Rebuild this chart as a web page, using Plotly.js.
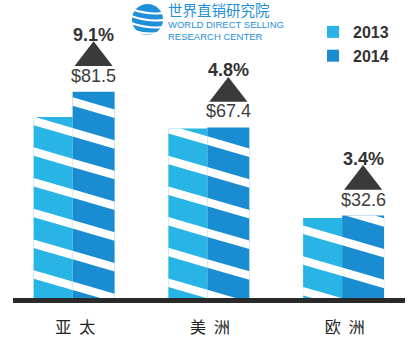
<!DOCTYPE html>
<html><head><meta charset="utf-8">
<script src="https://cdn.plot.ly/plotly-3.0.1.min.js"></script>
<style>html,body{margin:0;padding:0;background:#fff;} #chart{width:411px;height:342px;}</style>
</head><body><div id="chart"></div>
<script>
// ---- data ----
const regions = ['亚太', '美洲', '欧洲'];
const tickLabels = ['亚\u2002太', '美\u2002洲', '欧\u2002洲'];
const seriesNames = ['2013', '2014'];
const sales2013 = [71.5, 67.0, 31.6];
const sales2014 = [81.5, 67.4, 32.6];
const growthLabels = ['9.1%', '4.8%', '3.4%'];
const valueLabels = sales2014.map(v => '$' + v.toFixed(1));

// ---- geometry / style ----
const W = 411, H = 342, M = {l: 13, r: 6, t: 20, b: 44};
const plotW = W - M.l - M.r, plotH = H - M.t - M.b;
const unitPx = 134.75;
const xr = [-0.4423, -0.4423 + plotW / unitPx];
const ppu = 2.53;
const yr = [0, plotH / ppu];
const w13 = 39 / unitPx, w14 = 42 / unitPx;
const c13 = '#28b5e5', c14 = '#1a8dd2';
const idx = regions.map((_, i) => i);

function px2x(px) { return xr[0] + (px - M.l) / plotW * (xr[1] - xr[0]); }
function x2px(x) { return M.l + (x - xr[0]) / (xr[1] - xr[0]) * plotW; }
function py2y(py) { return (M.t + plotH - py) / ppu; }
function y2py(y) { return M.t + plotH - y * ppu; }
function pxP(px) { return (px - M.l) / plotW; }
function pyP(py) { return (M.t + plotH - py) / plotH; }

// ---- diagonal white stripes clipped to each bar ----
const S = 0.29, P = 30.7, T = 8.5, PH = 199.0;
function clipY(poly, yLim, keepBelow) {
  const out = [];
  const inside = p => keepBelow ? p[1] >= yLim : p[1] <= yLim;
  for (let i = 0; i < poly.length; i++) {
    const a = poly[i], b = poly[(i + 1) % poly.length];
    const ia = inside(a), ib = inside(b);
    if (ia) out.push(a);
    if (ia !== ib) {
      const t = (yLim - a[1]) / (b[1] - a[1]);
      out.push([a[0] + t * (b[0] - a[0]), yLim]);
    }
  }
  return out;
}
const shapes = [];
function stripesFor(xs, vals, offset, width) {
  xs.forEach((xc, i) => {
    const x0 = x2px(xc + offset), x1 = x2px(xc + offset + width);
    const yt = y2py(vals[i]), yb = y2py(0);
    const kMin = Math.floor((yt - S * x1 - T - PH) / P);
    const kMax = Math.ceil((yb - S * x0 - PH) / P);
    for (let k = kMin; k <= kMax; k++) {
      const c = PH + k * P;
      let poly = [[x0, c + S * x0], [x1, c + S * x1], [x1, c + T + S * x1], [x0, c + T + S * x0]];
      poly = clipY(poly, yt, true);
      if (poly.length < 3) continue;
      poly = clipY(poly, yb, false);
      if (poly.length < 3) continue;
      const path = poly.map((p, j) => (j ? 'L' : 'M') + px2x(p[0]).toFixed(5) + ',' + py2y(p[1]).toFixed(4)).join(' ') + ' Z';
      shapes.push({type: 'path', xref: 'x', yref: 'y', path: path, fillcolor: '#ffffff', line: {width: 0}, layer: 'above'});
    }
  });
}
stripesFor(idx, sales2013, -w13, w13);
stripesFor(idx, sales2014, 0, w14);

// ---- logo (decorative) ----
shapes.push({type: 'circle', xref: 'paper', yref: 'paper', x0: pxP(132), x1: pxP(163), y0: pyP(35), y1: pyP(4), fillcolor: '#1f8fd8', line: {width: 0}, layer: 'above'});
[[9, 13], [16, 20], [23, 27], [30, 32]].forEach(([a, b]) => {
  shapes.push({type: 'path', xref: 'paper', yref: 'paper',
    path: `M${pxP(131)},${pyP(a)} Q${pxP(148)},${pyP(a + 6)} ${pxP(164)},${pyP(b)}`,
    line: {color: '#ffffff', width: 2}, layer: 'above'});
});

// ---- traces ----
const traces = [
  {type: 'bar', name: seriesNames[0], x: idx, y: sales2013, width: w13, offset: -w13,
   marker: {color: c13, line: {width: 0}}, hoverinfo: 'skip', legendgroup: 'a'},
  {type: 'bar', name: seriesNames[1], x: idx, y: sales2014, width: w14, offset: 0,
   marker: {color: c14, line: {width: 0}}, hoverinfo: 'skip', legendgroup: 'b'},
  {type: 'scatter', mode: 'markers', x: idx.map(i => i + w14 / 2), y: sales2014.map(v => v + 34 / ppu),
   marker: {symbol: 'triangle-up', size: 33, color: '#3a3a3a', line: {width: 0}},
   showlegend: false, hoverinfo: 'skip'}
];

const annotations = [];
idx.forEach(i => {
  annotations.push({xref: 'x', yref: 'y', x: i + w14 / 2, y: sales2014[i], yshift: 16, yanchor: 'middle', xanchor: 'center',
    text: valueLabels[i], showarrow: false, font: {family: 'Liberation Sans', size: 18, color: '#3d3d3d'}});
  annotations.push({xref: 'x', yref: 'y', x: i + w14 / 2, y: sales2014[i], yshift: 57, yanchor: 'middle', xanchor: 'center',
    text: growthLabels[i], showarrow: false, font: {family: 'Liberation Sans', size: 18, color: '#333333', weight: 'bold'}});
});
annotations.push({xref: 'paper', yref: 'paper', x: pxP(166), y: pyP(20), xanchor: 'left', yanchor: 'middle', align: 'left',
  text: '<span style="font-size:14.5px;font-family:\'Noto Sans CJK SC\'">世界直销研究院</span><br>' +
        '<span style="font-size:9.5px">WORLD DIRECT SELLING</span><br>' +
        '<span style="font-size:9.5px">RESEARCH CENTER</span>',
  showarrow: false, font: {family: 'Liberation Sans', size: 9.4, color: '#1f8fd8'}});

const layout = {
  width: W, height: H,
  margin: M,
  paper_bgcolor: '#ffffff', plot_bgcolor: '#ffffff',
  barmode: 'overlay',
  showlegend: true,
  legend: {x: pxP(313), xanchor: 'left', y: pyP(15), yanchor: 'top', traceorder: 'grouped', tracegroupgap: 0,
    font: {family: 'Liberation Sans', size: 16, color: '#333333', weight: 'bold'}, bgcolor: 'rgba(0,0,0,0)'},
  xaxis: {type: 'linear', range: xr, tickvals: idx.map(i => i + 0.02), ticktext: tickLabels,
    showline: true, linewidth: 5, linecolor: '#2a2a2a', showgrid: false, zeroline: false, ticks: '',
    ticklabelstandoff: 11,
    tickfont: {family: 'Noto Sans CJK SC', size: 16, color: '#222222'}, fixedrange: true},
  yaxis: {range: yr, visible: false, fixedrange: true},
  shapes: shapes,
  annotations: annotations
};

Plotly.newPlot('chart', traces, layout, {displayModeBar: false, staticPlot: true});
</script>
</body></html>
